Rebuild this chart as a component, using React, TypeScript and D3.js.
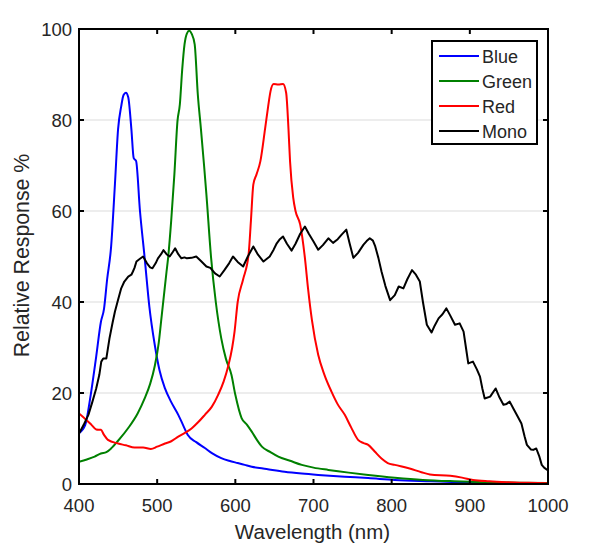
import React from "react";
import * as d3 from "d3";

const seriesNames = ["Blue", "Green", "Red", "Mono"];
const seriesColors = ["#0000ff", "#008000", "#ff0000", "#000000"];

const blueData: [number, number][] = [
  [400, 11.2], [408, 13], [415, 19.6], [422, 28], [428, 35.6], [432, 38.5], [436, 45], [441, 52],
  [446, 66], [450, 78], [454, 83], [457, 85.5], [460, 86], [463, 85], [467, 78], [470, 71.6],
  [473, 71], [478, 60], [484, 49.7], [490, 39], [497, 30.5], [503, 25], [510, 21], [518, 18],
  [527, 15.2], [533, 13], [539, 10.8], [550, 9.2], [561, 7.9], [570, 6.8], [582, 5.7],
  [592, 5.1], [603, 4.6], [612, 4.2], [621, 3.8], [640, 3.3], [663, 2.7], [685, 2.3],
  [706, 2.0], [740, 1.6], [770, 1.3], [804, 0.9], [850, 0.6], [900, 0.3], [950, 0.15], [1000, 0.05],
];

const greenData: [number, number][] = [
  [400, 4.9], [410, 5.4], [420, 6.0], [428, 6.7], [435, 7.0], [441, 7.8], [450, 9.5],
  [463, 12.3], [475, 15.5], [484, 18.8], [491, 22], [497, 26], [502, 31], [505, 35.7],
  [509, 42], [512, 46.7], [514, 49.7], [518, 58], [522, 68], [526, 79.8], [529, 83.4],
  [532, 91], [535, 96.6], [538, 99], [541, 99.6], [544, 99], [548, 96.6], [552, 85.6],
  [556, 78], [560, 70], [563, 63.6], [569, 49.7], [575, 40], [582, 32], [588, 27.5],
  [595, 24], [600, 19.6], [608, 14.5], [615, 13], [621, 11.5], [628, 9.6], [634, 8.2],
  [645, 7], [655, 6.0], [670, 5.1], [685, 4.2], [700, 3.6], [719, 3.1], [745, 2.5],
  [770, 2.0], [804, 1.4], [840, 0.9], [880, 0.6], [920, 0.4], [960, 0.3], [1000, 0.2],
];

const redData: [number, number][] = [
  [400, 15.5], [408, 14.3], [416, 13], [422, 12], [428, 11.9], [432, 10.8], [437, 9.7],
  [450, 8.9], [460, 8.5], [471, 8.0], [482, 8.0], [492, 7.7], [500, 8.2], [510, 8.9],
  [518, 9.4], [527, 10.4], [535, 11.2], [544, 12.2], [552, 13.5], [561, 15.2], [570, 17],
  [578, 19.6], [585, 22.5], [591, 26], [596, 30], [599, 33.5], [603, 40], [610, 45],
  [617, 50.5], [620, 58], [623, 65.8], [627, 68], [632, 70.9], [638, 78], [642, 83],
  [645, 86.3], [649, 87.9], [655, 87.8], [661, 87.9], [665, 86], [668, 78], [670, 70.9],
  [674, 63], [677, 60], [683, 57], [689, 49.7], [693, 43], [698, 36], [706, 28.4],
  [714, 24], [723, 20.3], [731, 17.5], [740, 15.2], [748, 12.5], [757, 9.7], [764, 9],
  [770, 8.6], [778, 7.2], [787, 5.6], [795, 4.6], [804, 4.2], [823, 3.4], [838, 2.6],
  [849, 2.1], [875, 1.8], [890, 1.4], [904, 0.9], [925, 0.6], [947, 0.4], [975, 0.25], [1000, 0.15],
];

const monoData: [number, number][] = [
  [400, 11.1], [406, 13], [412, 15.2], [417, 18], [422, 21], [426, 24], [428.5, 26.9],
  [431, 27.6], [435, 27.6], [439, 32], [443, 35.5], [446, 37.9], [450, 40.5], [454, 43],
  [458, 44.5], [463, 45.6], [467, 46], [469, 46.7], [471, 47.5], [473.5, 48.9], [478, 49.5],
  [482, 50], [487, 48.5], [491, 47.6], [494, 47.4], [498, 48.5], [501, 49.6], [505, 50.5],
  [508, 51.4], [512, 50.5], [516, 50], [520, 51], [523, 51.8], [527, 50.5], [531, 49.6],
  [535, 49.8], [538, 49.6], [544, 49.7], [550, 50], [556, 49], [563, 47.8], [568, 47.5],
  [574, 46.3], [580, 45.6], [586, 47], [592, 48.5], [597, 50], [603, 48.8], [610, 47.8],
  [616, 50], [623, 52.2], [629, 50.4], [636, 48.9], [644, 50], [649, 51.5], [653, 52.9],
  [657, 53.8], [661, 54.4], [666, 52.8], [672, 51.3], [677, 52.8], [683, 55], [689, 56.6],
  [694, 55], [700, 53.3], [706, 51.5], [712, 52.5], [719, 54], [725, 53], [731, 53.8],
  [736, 54.8], [742, 55.9], [746, 53], [751, 49.7], [757, 50.8], [764, 52.6], [768, 53.4],
  [772, 54], [776, 53.5], [779, 52.2], [783, 49.7], [787, 46.7], [792, 43.5], [798, 40.4],
  [804, 41.5], [809, 43.4], [815, 43], [820, 45], [826, 47], [831, 46], [836, 44.5],
  [840, 40], [845, 35], [851, 33.3], [855, 34.8], [860, 36.4], [865, 37.3], [870, 38.6],
  [875, 37], [881, 35], [887, 35.3], [892, 33.5], [895, 30], [898, 26.5], [904, 26.9],
  [909, 25.2], [913, 23.6], [916, 21], [919, 18.8], [926, 19.2], [933, 21], [938, 19],
  [943, 17.4], [947, 17.6], [951, 18.1], [956, 16.5], [960, 15.2], [966, 13.3], [970, 10.5],
  [973, 8.6], [978, 7.6], [981, 7.5], [985, 7.8], [989, 6], [992, 4.2], [995, 3.6], [1000, 3.0],
];

const allSeries = [blueData, greenData, redData, monoData];

const xTicks = [400, 500, 600, 700, 800, 900, 1000];
const yTicks = [0, 20, 40, 60, 80, 100];
const gridTicks = [20, 40, 60, 80];

const W = 600;
const H = 546;
const left = 79;
const right = 548;
const top = 29;
const bottom = 484;
const FONT = "'Liberation Sans', Arial, Helvetica, sans-serif";
const TEXT = "#262626";

export default function App() {
  const x = d3.scaleLinear().domain([400, 1000]).range([left, right]);
  const y = d3.scaleLinear().domain([0, 100]).range([bottom, top]);
  const smoothLine = d3
    .line<[number, number]>()
    .x((d) => x(d[0]))
    .y((d) => y(d[1]))
    .curve(d3.curveMonotoneX);
  const sharpLine = d3
    .line<[number, number]>()
    .x((d) => x(d[0]))
    .y((d) => y(d[1]))
    .curve(d3.curveLinear);

  const tickLen = 5;
  const legX = 432;
  const legY = 41;
  const legW = 105;
  const legH = 103;
  const rowH = 25;

  return (
    <svg
      width={W}
      height={H}
      style={{ position: "absolute", left: 0, top: 0, background: "#fff" }}
      fontFamily={FONT}
    >
      <rect x={0} y={0} width={W} height={H} fill="#fff" />
      {gridTicks.map((t) => (
        <line key={"g" + t} x1={left} x2={right} y1={y(t)} y2={y(t)} stroke="#dcdcdc" strokeWidth={1.2} />
      ))}
      <defs>
        <clipPath id="plotclip">
          <rect x={left} y={top - 2} width={right - left} height={bottom - top + 2} />
        </clipPath>
      </defs>
      <g clipPath="url(#plotclip)">
        {allSeries.map((s, i) => (
          <path
            key={seriesNames[i]}
            d={(i === 3 ? sharpLine(s) : smoothLine(s)) || ""}
            fill="none"
            stroke={seriesColors[i]}
            strokeWidth={2}
            strokeLinejoin="round"
          />
        ))}
      </g>
      <rect x={left} y={top} width={right - left} height={bottom - top} fill="none" stroke="#000" strokeWidth={2} />
      {xTicks.map((t) => (
        <g key={"x" + t}>
          <line x1={x(t)} x2={x(t)} y1={bottom} y2={bottom - tickLen} stroke="#000" strokeWidth={2} />
          <line x1={x(t)} x2={x(t)} y1={top} y2={top + tickLen} stroke="#000" strokeWidth={2} />
          <text x={x(t)} y={bottom + 28} textAnchor="middle" fontSize={18.5} fill={TEXT}>
            {t}
          </text>
        </g>
      ))}
      {yTicks.map((t) => (
        <g key={"y" + t}>
          <line x1={left} x2={left + tickLen} y1={y(t)} y2={y(t)} stroke="#000" strokeWidth={2} />
          <line x1={right} x2={right - tickLen} y1={y(t)} y2={y(t)} stroke="#000" strokeWidth={2} />
          <text x={left - 7} y={y(t) + 6.5} textAnchor="end" fontSize={18.5} fill={TEXT}>
            {t}
          </text>
        </g>
      ))}
      <text x={(left + right) / 2 - 1} y={539} textAnchor="middle" fontSize={20.5} fill={TEXT}>
        Wavelength (nm)
      </text>
      <text
        transform={`translate(29, 255.5) rotate(-90)`}
        textAnchor="middle"
        fontSize={21.3}
        fill={TEXT}
      >
        Relative Response %
      </text>
      <rect x={legX} y={legY} width={legW} height={legH} fill="#fff" stroke="#000" strokeWidth={2} />
      {seriesNames.map((n, i) => (
        <g key={"l" + n}>
          <line
            x1={legX + 7}
            x2={legX + 47}
            y1={legY + 15 + i * rowH}
            y2={legY + 15 + i * rowH}
            stroke={seriesColors[i]}
            strokeWidth={2}
          />
          <text x={legX + 50} y={legY + 15 + i * rowH + 6.5} fontSize={18} fill={TEXT}>
            {n}
          </text>
        </g>
      ))}
    </svg>
  );
}
